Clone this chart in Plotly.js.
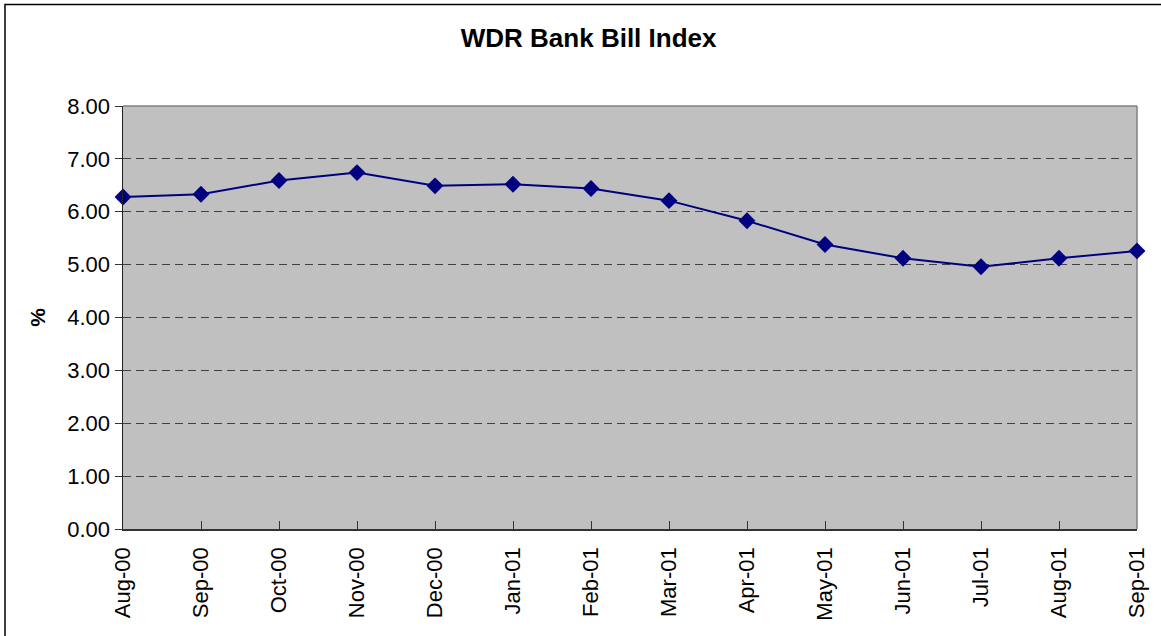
<!DOCTYPE html>
<html>
<head>
<meta charset="utf-8">
<script src="https://cdn.plot.ly/plotly-3.0.1.min.js"></script>
<style>
html,body{margin:0;padding:0;background:#fff;}
#chart{width:1161px;height:636px;}
</style>
</head>
<body>
<div id="chart"></div>
<script>
const months = ["Aug-00","Sep-00","Oct-00","Nov-00","Dec-00","Jan-01","Feb-01","Mar-01","Apr-01","May-01","Jun-01","Jul-01","Aug-01","Sep-01"];
const indexValues = [6.28,6.33,6.59,6.74,6.49,6.52,6.44,6.21,5.83,5.38,5.12,4.96,5.12,5.26];
const yTicks = [0,1,2,3,4,5,6,7,8];
const yTickLabels = ["0.00","1.00","2.00","3.00","4.00","5.00","6.00","7.00","8.00"];
const chartTitle = "WDR Bank Bill Index";
const yTitle = "%";

const font = "Liberation Sans, Arial, sans-serif";

const trace = {
  x: months,
  y: indexValues,
  type: "scatter",
  mode: "lines+markers",
  line: {color: "#000080", width: 2},
  marker: {symbol: "diamond", size: 13, color: "#000080"},
  cliponaxis: false,
  hoverinfo: "x+y"
};

const layout = {
  width: 1161,
  height: 636,
  margin: {l: 123, r: 24, t: 106, b: 107},
  paper_bgcolor: "#ffffff",
  plot_bgcolor: "#c0c0c0",
  showlegend: false,
  title: {
    text: "<b>" + chartTitle + "</b>",
    font: {family: font, size: 26, color: "#000"},
    x: 0.507, xanchor: "center",
    y: 0.94, yanchor: "middle"
  },
  xaxis: {
    type: "category",
    range: [0, months.length - 1],
    showgrid: false,
    zeroline: false,
    showline: true,
    linecolor: "#333",
    linewidth: 1.5,
    ticks: "inside",
    ticklen: 8,
    tickwidth: 1,
    tickcolor: "#333",
    tickangle: -90,
    ticklabelstandoff: 8,
    tickfont: {family: font, size: 22, color: "#000"},
    fixedrange: true
  },
  yaxis: {
    range: [0, 8],
    tickvals: yTicks,
    ticktext: yTickLabels,
    showgrid: true,
    gridcolor: "#404040",
    gridwidth: 1,
    griddash: "8px,5px",
    zeroline: false,
    showline: true,
    linecolor: "#222",
    linewidth: 1.5,
    ticks: "outside",
    ticklen: 7,
    tickcolor: "#333",
    tickfont: {family: font, size: 22, color: "#000"},
    title: {
      text: "<b>" + yTitle + "</b>",
      font: {family: font, size: 21, color: "#000"},
      standoff: 16
    },
    fixedrange: true
  },
  shapes: [
    {type: "line", xref: "paper", yref: "paper", x0: 0, x1: 1, y0: 1, y1: 1,
     line: {color: "#808080", width: 1.5}, layer: "above"},
    {type: "line", xref: "paper", yref: "paper", x0: 1, x1: 1, y0: 0, y1: 1,
     line: {color: "#808080", width: 1.5}, layer: "below"},
    {type: "rect", xref: "paper", yref: "paper",
     x0: (5 - 123) / 1014, x1: 1.2, y0: (529 - 4.5) / 423, y1: -0.5,
     line: {color: "#000", width: 1.5}, fillcolor: "rgba(0,0,0,0)", layer: "below"}
  ]
};

Plotly.newPlot("chart", [trace], layout, {displayModeBar: false, staticPlot: true});
</script>
</body>
</html>
